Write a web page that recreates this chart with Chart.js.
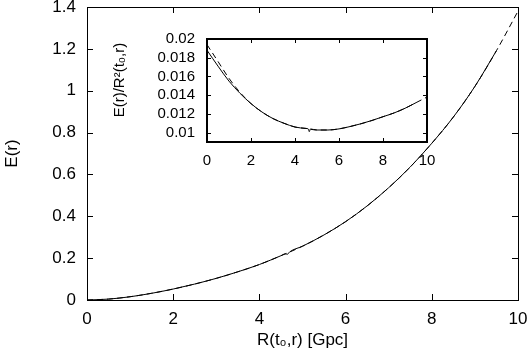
<!DOCTYPE html>
<html>
<head>
<meta charset="utf-8">
<script src="https://cdn.jsdelivr.net/npm/chart.js@4"></script>
<style>
html,body{margin:0;padding:0;background:#fff;}
#wrap{position:relative;width:530px;height:359px;}
#main{position:absolute;left:0;top:0;}
#inset{position:absolute;left:100px;top:20px;}
</style>
</head>
<body>
<div id="wrap">
<canvas id="main" width="530" height="359"></canvas>
<canvas id="inset" width="340" height="160"></canvas>
</div>
<script>
// ---- data ----
const rDashed = [0,0.5,1,1.5,2,2.5,3,3.5,4,4.5,5,5.5,6,6.5,7,7.5,8,8.5,9,9.5,10];
const eDashed = [0,0.0044,0.0158,0.0322,0.0524,0.0763,0.1035,0.1348,0.1696,0.2116,0.257,0.311,0.3744,0.4496,0.5366,0.6356,0.7488,0.8742,1.0206,1.1913,1.38];
const ratioDashed = [0.0194,0.0176,0.0158,0.0143,0.0131,0.0122,0.0115,0.0110,0.0106,0.01045,0.01028,0.01028,0.0104,0.01065,0.01095,0.0113,0.0117,0.0121,0.0126,0.0132,0.0138];

const rSolid = [0,0.5,1,1.5,2,2.5,3,3.5,4,4.5,4.6,4.65,4.7,5,5.5,6,6.5,7,7.5,8,8.5,9,9.5];
const eSolid = [0,0.0043,0.0155,0.032,0.0524,0.0763,0.1035,0.1348,0.1696,0.2116,0.2205,0.2185,0.2295,0.257,0.311,0.3744,0.4496,0.5366,0.6356,0.7488,0.8742,1.0206,1.1913];
const ratioSolid = [0.0188,0.0171,0.0155,0.0142,0.0131,0.0122,0.0115,0.0110,0.0106,0.01045,0.0104,0.0101,0.01039,0.01028,0.01028,0.0104,0.01065,0.01095,0.0113,0.0117,0.0121,0.0126,0.0132];

const mainXTicks = [0,2,4,6,8,10];
const mainXLabels = ['0','2','4','6','8','10'];
const mainYTicks = [0,0.2,0.4,0.6,0.8,1,1.2,1.4];
const mainYLabels = ['0','0.2','0.4','0.6','0.8','1','1.2','1.4'];
const insetXTicks = [0,2,4,6,8,10];
const insetXLabels = ['0','2','4','6','8','10'];
const insetYTicks = [0.01,0.012,0.014,0.016,0.018,0.02];
const insetYLabels = ['0.01','0.012','0.014','0.016','0.018','0.02'];

const mainXTitle = 'R(t\u2080,r) [Gpc]';
const mainYTitle = 'E(r)';
const insetYTitle = '     E(r)/R\u00B2(t\u2080,r)';

// ---- helpers ----
const pts = (xs, ys) => xs.map((x, i) => ({x: x, y: ys[i]}));
const FONT = 'Liberation Sans, Arial, Helvetica, sans-serif';

const boxTicks = {
  id: 'boxTicks',
  afterDraw(chart, args, opts) {
    const {ctx, chartArea: a, scales} = chart;
    const L = opts.len;
    ctx.save();
    ctx.strokeStyle = '#000';
    ctx.lineWidth = 1;
    ctx.beginPath();
    scales.x.ticks.forEach(t => {
      const p = Math.round(scales.x.getPixelForValue(t.value)) + 0.5;
      ctx.moveTo(p, a.bottom); ctx.lineTo(p, a.bottom - L);
      ctx.moveTo(p, a.top); ctx.lineTo(p, a.top + L);
    });
    scales.y.ticks.forEach(t => {
      const p = Math.round(scales.y.getPixelForValue(t.value)) + 0.5;
      ctx.moveTo(a.left, p); ctx.lineTo(a.left + L, p);
      ctx.moveTo(a.right, p); ctx.lineTo(a.right - L, p);
    });
    ctx.stroke();
    ctx.lineWidth = opts.box;
    const o = opts.box % 2 ? 0.5 : 0;
    ctx.strokeRect(Math.round(a.left) + o, Math.round(a.top) + o, Math.round(a.width), Math.round(a.height));
    ctx.restore();
  }
};

function axis(min, max, tickVals, tickLabels, fontSize, pad, extra) {
  return Object.assign({
    type: 'linear',
    min: min, max: max,
    afterBuildTicks: s => { s.ticks = tickVals.map(v => ({value: v})); },
    grid: {display: false, drawTicks: false},
    border: {display: false},
    ticks: {
      color: '#000',
      font: {family: FONT, size: fontSize},
      padding: pad,
      maxRotation: 0,
      autoSkip: false,
      callback: (v) => { const i = tickVals.findIndex(t => Math.abs(t - v) < 1e-9); return i >= 0 ? tickLabels[i] : ''; }
    }
  }, extra);
}

Chart.defaults.animation = false;

new Chart(document.getElementById('main'), {
  type: 'line',
  data: {
    datasets: [
      {data: pts(rSolid, eSolid), borderColor: '#000', borderWidth: 1, pointRadius: 0, cubicInterpolationMode: 'monotone', fill: false},
      {data: pts(rDashed, eDashed), borderColor: '#000', borderWidth: 1, borderDash: [6, 4], pointRadius: 0, cubicInterpolationMode: 'monotone', fill: false}
    ]
  },
  options: {
    responsive: false,
    animation: false,
    layout: {padding: {left: 0, right: 12, top: 7, bottom: 0}},
    plugins: {legend: {display: false}, tooltip: {enabled: false}, boxTicks: {len: 6, box: 1}},
    scales: {
      x: axis(0, 10, mainXTicks, mainXLabels, 17, 9, {
        afterFit: s => { s.height = 59; s.paddingLeft = 0; s.paddingRight = 0; },
        title: {display: true, text: mainXTitle, color: '#000', font: {family: FONT, size: 17}, padding: {top: 0, bottom: 8}}
      }),
      y: axis(0, 1.4, mainYTicks, mainYLabels, 17, 11, {
        afterFit: s => { s.width = 87; s.paddingTop = 0; s.paddingBottom = 0; },
        title: {display: true, text: mainYTitle, color: '#000', font: {family: FONT, size: 17}, padding: {top: 2, bottom: 0}}
      })
    }
  },
  plugins: [boxTicks]
});

new Chart(document.getElementById('inset'), {
  type: 'line',
  data: {
    datasets: [
      {data: pts(rSolid, ratioSolid), borderColor: '#000', borderWidth: 1, pointRadius: 0, cubicInterpolationMode: 'monotone', fill: false},
      {data: pts(rDashed, ratioDashed), borderColor: '#000', borderWidth: 1, borderDash: [6, 4], pointRadius: 0, cubicInterpolationMode: 'monotone', fill: false}
    ]
  },
  options: {
    responsive: false,
    animation: false,
    layout: {padding: {left: 0, right: 13, top: 19, bottom: 0}},
    plugins: {legend: {display: false}, tooltip: {enabled: false}, boxTicks: {len: 4, box: 2}},
    scales: {
      x: axis(0, 10, insetXTicks, insetXLabels, 15, 10, {
        afterFit: s => { s.height = 38; s.paddingLeft = 0; s.paddingRight = 0; }
      }),
      y: axis(0.009, 0.02, insetYTicks, insetYLabels, 15, 12, {
        afterFit: s => { s.width = 107; s.paddingTop = 0; s.paddingBottom = 0; },
        title: {display: true, text: insetYTitle, color: '#000', font: {family: FONT, size: 15}, padding: {top: 11, bottom: 0}}
      })
    }
  },
  plugins: [boxTicks]
});
</script>
</body>
</html>
